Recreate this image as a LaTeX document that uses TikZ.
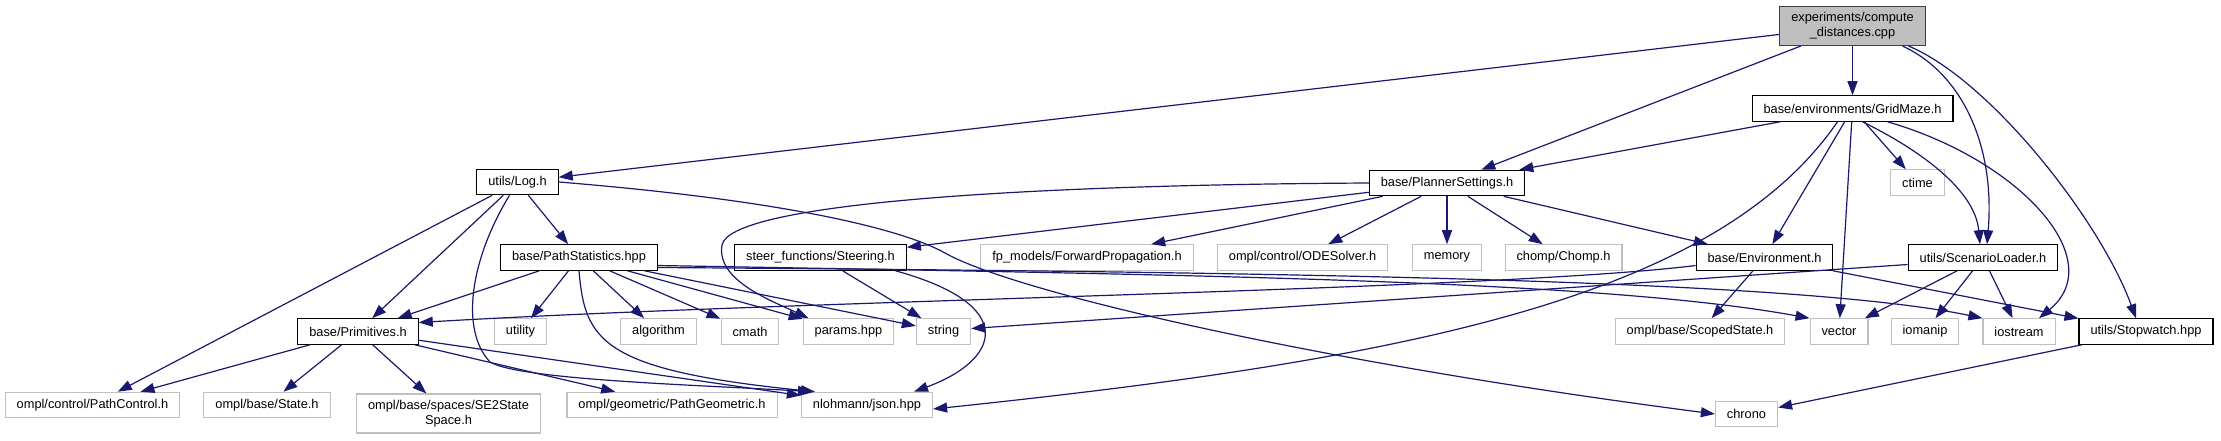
\documentclass[tikz,border=0pt]{standalone}
\usepackage{fontspec}
\setmainfont{Liberation Sans}
\usetikzlibrary{arrows.meta}
\definecolor{Edge}{HTML}{191970}
\definecolor{SysLine}{HTML}{BFBFBF}
\definecolor{MainFill}{HTML}{BFBFBF}
\definecolor{MainLine}{HTML}{404040}
\tikzset{
 file/.style={draw=black, fill=white, line width=1.1pt, font=\fontsize{12.8}{15}\selectfont, inner xsep=11.5pt, inner ysep=6pt, minimum height=25.5pt, align=center},
 sysfile/.style={file, draw=SysLine},
 mainfile/.style={file, draw=MainLine, fill=MainFill},
 dep/.style={-{Triangle[length=14pt,width=10pt]}, line width=1.2pt, draw=Edge}
}

\begin{document}
\begin{tikzpicture}[x=1pt,y=-1pt]
\fill[white] (0,0) rectangle (2221,440);
\useasboundingbox (0,0) rectangle (2221,440);
\node[mainfile] (main) at (1852.5,26) {experiments/compute\\\_distances.cpp};
\node[file] (gridmaze) at (1852.5,108.5) {base/environments/GridMaze.h};
\node[sysfile] (ctime) at (1917.5,182.5) {ctime};
\node[file] (planner) at (1447,183) {base/PlannerSettings.h};
\node[file] (log) at (517.5,182) {utils/Log.h};
\node[file] (pathstats) at (579,257.5) {base/PathStatistics.hpp};
\node[file] (steering) at (820.5,257.5) {steer\_functions/Steering.h};
\node[sysfile] (fwdprop) at (1087,257.5) {fp\_models/ForwardPropagation.h};
\node[sysfile] (odesolver) at (1302.5,257.5) {ompl/control/ODESolver.h};
\node[sysfile] (memory) at (1447,257.5) {memory};
\node[sysfile] (chomp) at (1563.5,257.5) {chomp/Chomp.h};
\node[file] (env) at (1764.5,257.5) {base/Environment.h};
\node[file] (scenario) at (1983,257.5) {utils/ScenarioLoader.h};
\node[file] (prims) at (358,331.5) {base/Primitives.h};
\node[sysfile] (utility) at (520.5,331.5) {utility};
\node[sysfile] (algorithm) at (658.5,331.5) {algorithm};
\node[sysfile] (cmath) at (750,331.5) {cmath};
\node[sysfile] (params) at (848.5,331.5) {params.hpp};
\node[sysfile] (string) at (943.5,331.5) {string};
\node[sysfile] (scoped) at (1700,331.5) {ompl/base/ScopedState.h};
\node[sysfile] (vector) at (1839,331.5) {vector};
\node[sysfile] (iomanip) at (1925,331.5) {iomanip};
\node[sysfile] (iostream) at (2019,331.5) {iostream};
\node[file] (stopwatch) at (2146,331.5) {utils/Stopwatch.hpp};
\node[sysfile] (pathcontrol) at (92.5,405) {ompl/control/PathControl.h};
\node[sysfile] (state) at (267,405) {ompl/base/State.h};
\node[sysfile] (se2) at (448.5,413.5) {ompl/base/spaces/SE2State\\Space.h};
\node[sysfile] (pathgeom) at (672,405) {ompl/geometric/PathGeometric.h};
\node[sysfile] (json) at (867,405) {nlohmann/json.hpp};
\node[sysfile] (chrono) at (1746.5,414) {chrono};
\draw[dep] (main) -- (log);
\draw[dep] (main) -- (planner);
\draw[dep] (main) -- (gridmaze);
\draw[dep] ([xshift=50pt]main.south) .. controls (1965,75) and (1995,150) .. ([xshift=4pt]scenario.north);
\draw[dep] ([xshift=56pt]main.south) .. controls (1990,80) and (2100,220) .. ([xshift=-10pt]stopwatch.north);
\draw[dep] (gridmaze) -- (planner);
\draw[dep] ([xshift=-15pt]gridmaze.south) .. controls (1715,300) and (1400,360) .. ([yshift=-4pt]json.east);
\draw[dep] (gridmaze) -- (env);
\draw[dep] (gridmaze) -- (vector);
\draw[dep] (gridmaze) -- (ctime);
\draw[dep] ([xshift=10pt]gridmaze.south) .. controls (1920,150) and (1975,190) .. ([xshift=-3pt]scenario.north);
\draw[dep] ([xshift=35pt]gridmaze.south) .. controls (2020,160) and (2110,260) .. ([xshift=20pt]iostream.north);
\draw[dep] (planner) -- (steering);
\draw[dep] (planner.west) .. controls (1000,185) and (730,205) .. (722,245) .. controls (716,280) and (770,300) .. ([xshift=-40pt]params.north);
\draw[dep] (planner) -- (fwdprop);
\draw[dep] (planner) -- (odesolver);
\draw[dep] (planner) -- (memory);
\draw[dep] (planner) -- (chomp);
\draw[dep] (planner) -- (env);
\draw[dep] (log) -- (pathstats);
\draw[dep] (log) -- (prims);
\draw[dep] (log) -- (pathcontrol);
\draw[dep] ([xshift=-8pt]log.south) .. controls (470,260) and (460,330) .. (490,362) .. controls (520,380) and (700,385) .. ([xshift=-55pt]json.north);
\draw[dep] (log.east) .. controls (780,200) and (900,228) .. (945,253) .. controls (1010,290) and (1300,360) .. (chrono.west);
\draw[dep] (pathstats) -- (prims);
\draw[dep] (pathstats) -- (utility);
\draw[dep] (pathstats) -- (algorithm);
\draw[dep] (pathstats) -- (cmath);
\draw[dep] (pathstats) -- (params);
\draw[dep] (pathstats) -- (string);
\draw[dep] (pathstats.south) .. controls (585,340) and (600,370) .. ([xshift=-52pt]json.north);
\draw[dep] ([yshift=-8pt]pathstats.east) .. controls (1200,275) and (1600,280) .. (vector.north west);
\draw[dep] ([yshift=-10pt]pathstats.east) .. controls (1300,272) and (1800,280) .. (iostream.north west);
\draw[dep] (steering) -- (string);
\draw[dep] ([xshift=75pt]steering.south) .. controls (1020,305) and (1000,360) .. ([xshift=47pt]json.north);
\draw[dep] ([yshift=-8pt]env.west) .. controls (1500,290) and (800,300) .. ([yshift=9pt]prims.east);
\draw[dep] (env) -- (scoped);
\draw[dep] (env) -- (stopwatch);
\draw[dep] ([yshift=-7pt]scenario.west) -- ([yshift=3pt]string.east);
\draw[dep] (scenario) -- (vector);
\draw[dep] (scenario) -- (iomanip);
\draw[dep] (scenario) -- (iostream);
\draw[dep] (stopwatch) -- (chrono);
\draw[dep] (prims) -- (pathcontrol);
\draw[dep] (prims) -- (state);
\draw[dep] (prims) -- (se2);
\draw[dep] (prims) -- (pathgeom);
\draw[dep] (prims) -- (json);
\end{tikzpicture}
\end{document}
